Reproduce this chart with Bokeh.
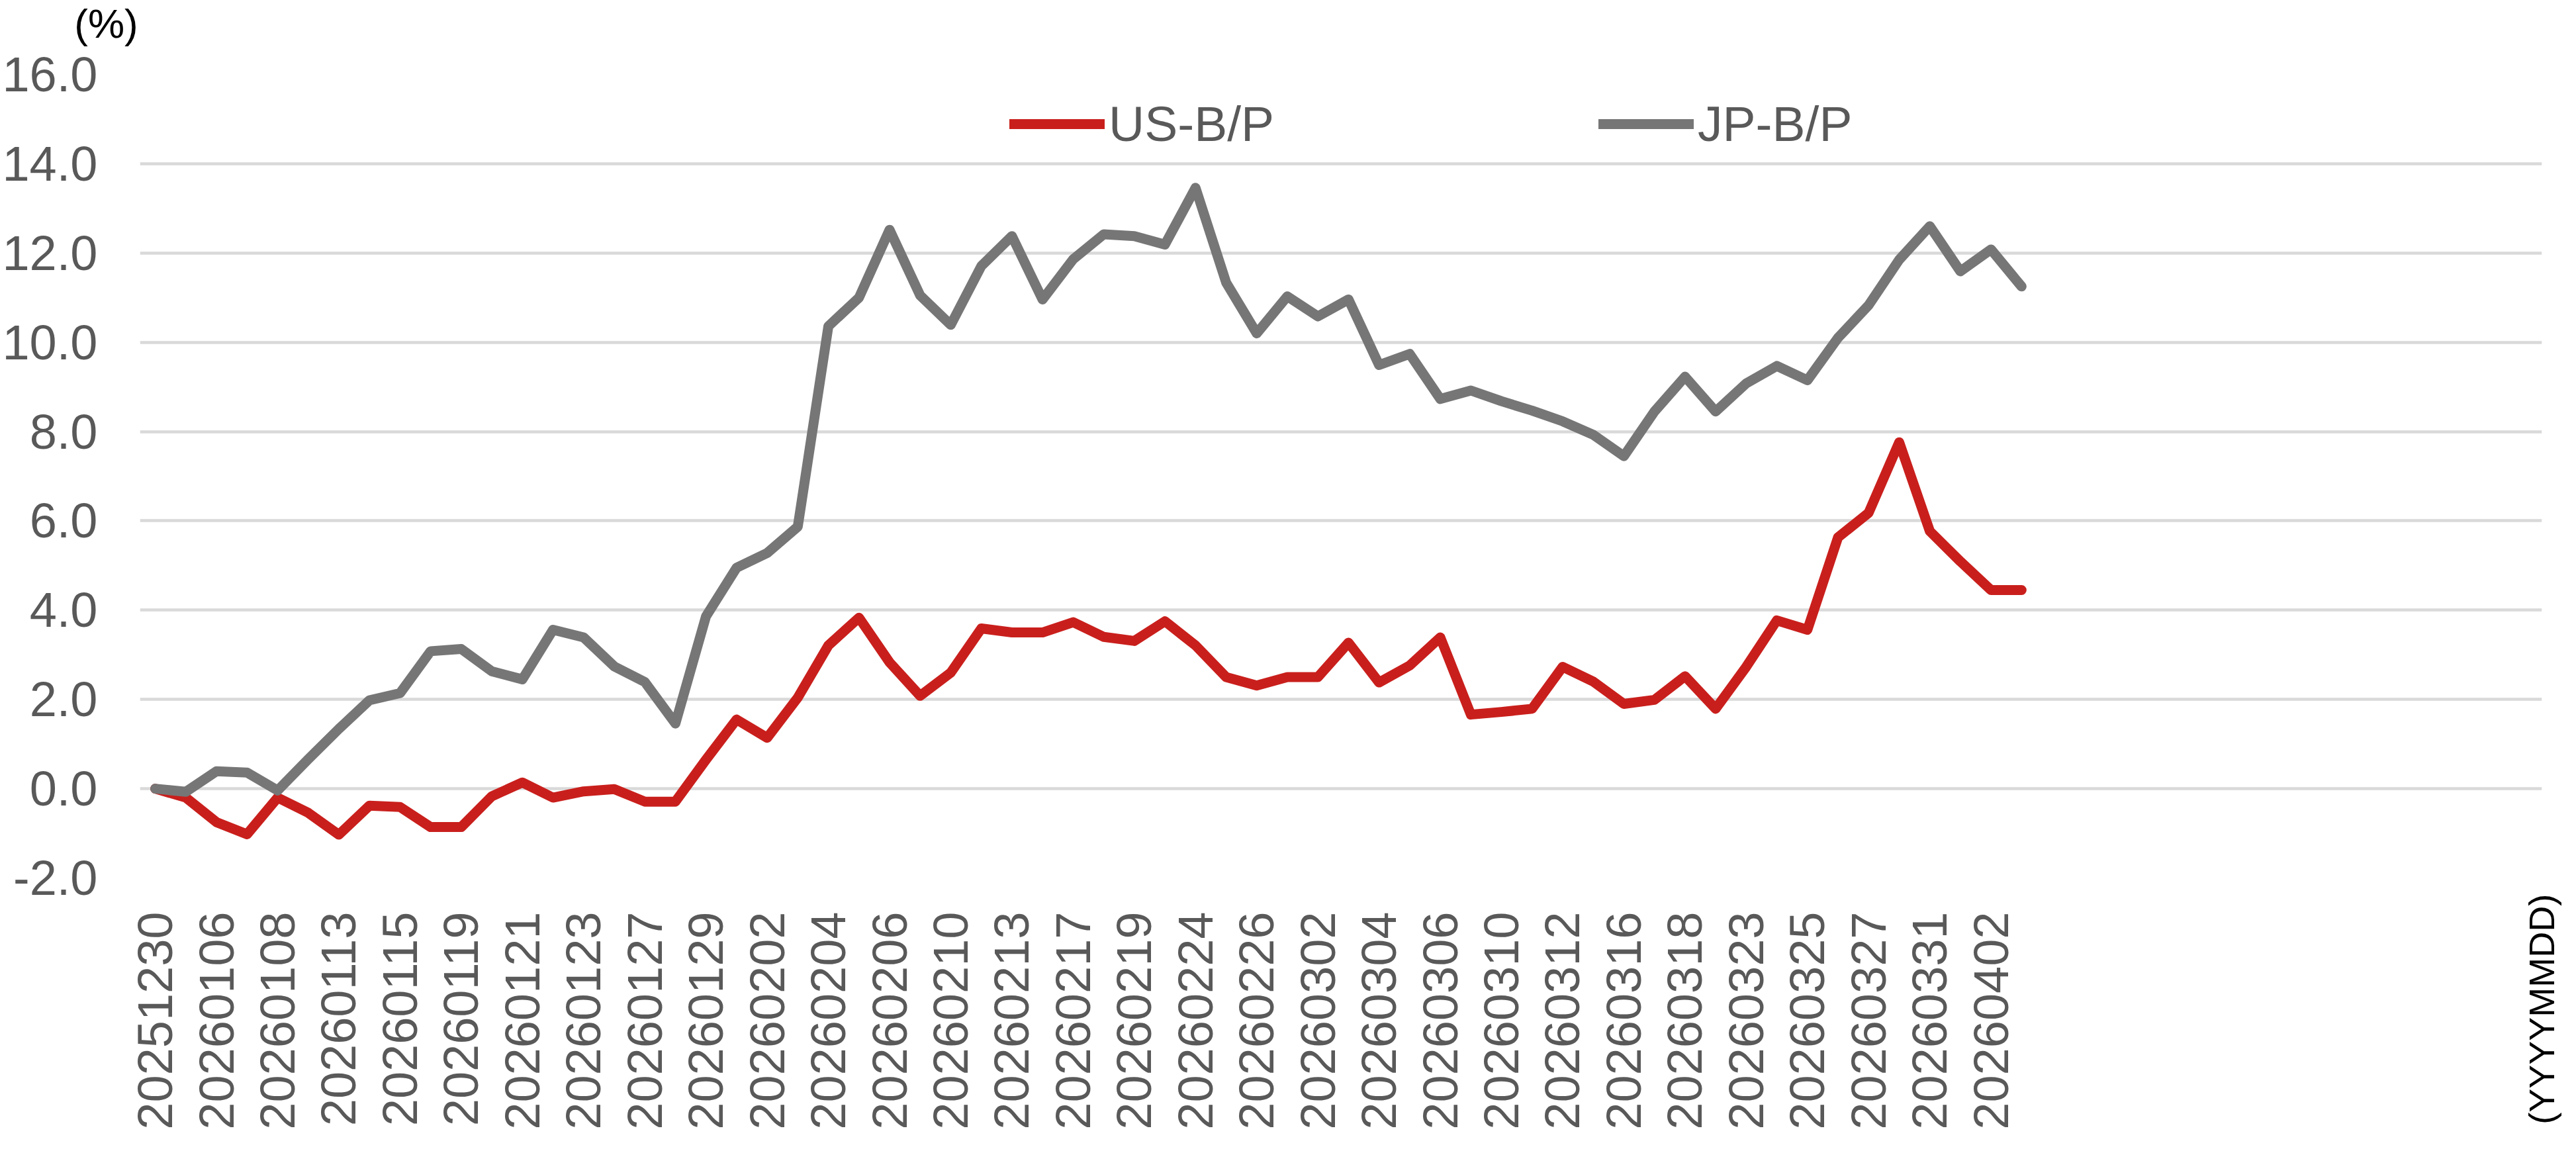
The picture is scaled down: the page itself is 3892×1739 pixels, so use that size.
import math
from bokeh.plotting import figure
from bokeh.models import (ColumnDataSource, FixedTicker, Legend, LegendItem, Label,
                          Range1d, NumeralTickFormatter)
from bokeh.embed import file_html
from bokeh.resources import INLINE

# ---------------- data ----------------
dates = ["20251230", "20260105", "20260106", "20260107", "20260108", "20260109",
         "20260113", "20260114", "20260115", "20260116", "20260119", "20260120",
         "20260121", "20260122", "20260123", "20260126", "20260127", "20260128",
         "20260129", "20260130", "20260202", "20260203", "20260204", "20260205",
         "20260206", "20260209", "20260210", "20260212", "20260213", "20260216",
         "20260217", "20260218", "20260219", "20260220", "20260224", "20260225",
         "20260226", "20260227", "20260302", "20260303", "20260304", "20260305",
         "20260306", "20260309", "20260310", "20260311", "20260312", "20260313",
         "20260316", "20260317", "20260318", "20260319", "20260323", "20260324",
         "20260325", "20260326", "20260327", "20260330", "20260331", "20260401",
         "20260402", "20260403"]

us_bp = [0.00, -0.20, -0.75, -1.02, -0.20, -0.54, -1.03, -0.38, -0.41, -0.86,
         -0.86, -0.17, 0.14, -0.20, -0.06, -0.01, -0.29, -0.29, 0.65, 1.55,
         1.14, 2.04, 3.21, 3.83, 2.83, 2.08, 2.60, 3.59, 3.50, 3.50,
         3.73, 3.40, 3.31, 3.75, 3.21, 2.50, 2.31, 2.50, 2.50, 3.27,
         2.38, 2.76, 3.39, 1.66, 1.72, 1.79, 2.73, 2.40, 1.90, 1.99,
         2.52, 1.79, 2.73, 3.77, 3.56, 5.63, 6.18, 7.76, 5.77, 5.09,
         4.45, 4.45]

jp_bp = [0.00, -0.07, 0.39, 0.36, -0.04, 0.66, 1.34, 1.98, 2.14, 3.08,
         3.13, 2.63, 2.45, 3.56, 3.39, 2.74, 2.39, 1.46, 3.86, 4.95,
         5.28, 5.87, 10.36, 11.00, 12.52, 11.05, 10.39, 11.71, 12.38, 10.96,
         11.86, 12.42, 12.38, 12.19, 13.46, 11.34, 10.20, 11.03, 10.58, 10.96,
         9.49, 9.74, 8.73, 8.92, 8.68, 8.47, 8.23, 7.93, 7.45, 8.45,
         9.23, 8.45, 9.08, 9.47, 9.15, 10.10, 10.83, 11.85, 12.60, 11.59,
         12.08, 11.25]

n_slots = 79                  # category slots on the x axis (incl. empty ones)
y_ticks = [-2, 0, 2, 4, 6, 8, 10, 12, 14, 16]
label_step = 2

series_names = ["US-B/P", "JP-B/P"]
colors = ["#c91f1c", "#767676"]
y_unit_text = "(%)"
x_unit_text = "(YYYYMMDD)"

FONT = "Liberation Sans"

# ---------------- layout constants ----------------
W, H = 3876, 1723
B_LEFT, B_RIGHT, B_TOP, B_BOTTOM = 202, 36, 112, 397
slot_px = 46.34                                   # width of one category slot
frame_w = W - B_LEFT - B_RIGHT
x_end = -0.5 + frame_w / slot_px                  # keep the slot width of the original

p = figure(width=W, height=H, output_backend="svg", toolbar_location=None,
           x_range=Range1d(-0.5, x_end), y_range=Range1d(y_ticks[0], y_ticks[-1]),
           min_border_left=B_LEFT, min_border_right=B_RIGHT, min_border_top=B_TOP,
           min_border_bottom=B_BOTTOM)
p.outline_line_color = None
p.background_fill_color = "white"
p.border_fill_color = "white"

p.xgrid.grid_line_color = None
p.ygrid.grid_line_color = "#d9d9d9"
p.ygrid.grid_line_width = 4.5

# y axis
p.yaxis.ticker = FixedTicker(ticks=y_ticks)
p.yaxis.formatter = NumeralTickFormatter(format="0.0")
p.yaxis.axis_line_color = None
p.yaxis.major_tick_line_color = None
p.yaxis.minor_tick_line_color = None
p.yaxis.major_label_text_font = FONT
p.yaxis.major_label_text_font_size = "74px"
p.yaxis.major_label_text_color = "#595959"
p.yaxis.major_label_standoff = 58

# x axis
tick_idx = list(range(0, len(dates), label_step))
xax = p.xaxis[0]
xax.ticker = FixedTicker(ticks=tick_idx)
xax.major_label_overrides = {i: dates[i] for i in tick_idx}
xax.axis_line_color = None
xax.major_tick_line_color = None
xax.minor_tick_line_color = None
xax.major_label_orientation = math.pi / 2
xax.major_label_text_font = FONT
xax.major_label_text_font_size = "74px"
xax.major_label_text_color = "#595959"
xax.major_label_standoff = 45

# "(YYYYMMDD)" unit note as the x-axis title, at the right end, rotated
xax.axis_label = x_unit_text
xax.axis_label_text_font = FONT
xax.axis_label_text_font_size = "54px"
xax.axis_label_text_font_style = "normal"
xax.axis_label_text_color = "#000000"
xax.axis_label_orientation = math.pi / 2
xax.axis_label_align = "end"
xax.axis_label_standoff = -359

src = ColumnDataSource(dict(x=list(range(len(dates))), us=us_bp, jp=jp_bp))
r_us = p.line("x", "us", source=src, line_color=colors[0], line_width=15,
              line_join="round", line_cap="round")
r_jp = p.line("x", "jp", source=src, line_color=colors[1], line_width=15,
              line_join="round", line_cap="round")

legend = Legend(items=[LegendItem(label=series_names[0], renderers=[r_us]),
                       LegendItem(label=series_names[1], renderers=[r_jp])],
                orientation="horizontal", location=(1314, 1096), spacing=490,
                padding=0, margin=0, border_line_color=None, background_fill_alpha=0,
                glyph_width=144, glyph_height=20, label_standoff=6,
                label_text_font=FONT, label_text_font_size="75px",
                label_text_color="#595959")
p.add_layout(legend)

# "(%)" unit note, placed in the top border panel (screen px relative to that panel)
p.add_layout(Label(x=-51, y=77, x_units="screen", y_units="screen", text=y_unit_text,
                   text_align="center", text_baseline="middle",
                   text_font=FONT, text_font_size="62px", text_color="#000000"),
             "above")

open("out.html", "w").write(file_html(p, INLINE))
